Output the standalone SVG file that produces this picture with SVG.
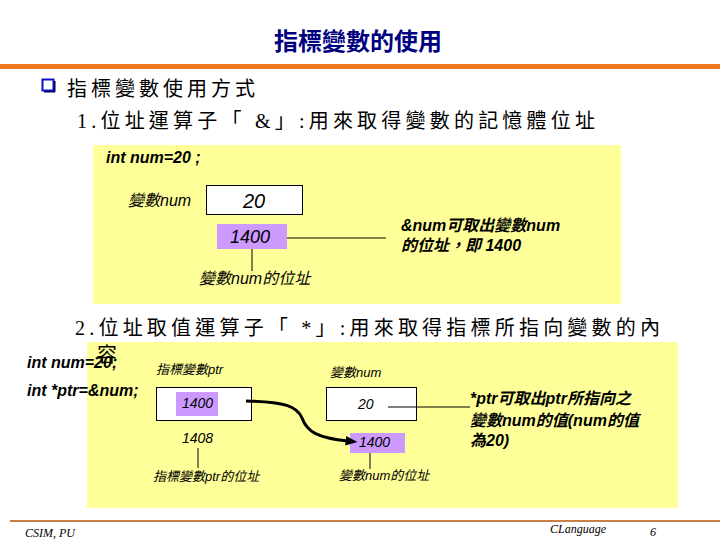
<svg xmlns="http://www.w3.org/2000/svg" width="720" height="540" viewBox="0 0 720 540">
<defs>
<style>
.title{font-family:"Liberation Serif","Noto Sans CJK TC",serif;font-size:24px;font-weight:bold;fill:#000080}
.head{font-family:"Liberation Serif","Noto Sans CJK TC",serif;font-size:20px;fill:#000}
.code{font-family:"Liberation Sans","Noto Sans CJK TC",sans-serif;font-size:16px;font-weight:bold;font-style:italic;fill:#000}
.lab{font-family:"Liberation Sans","Noto Sans CJK TC",sans-serif;font-style:italic;fill:#000}
.foot{font-family:"Liberation Serif",serif;font-style:italic;font-size:12px;fill:#000}
.box{fill:#fff;stroke:#000;stroke-width:1}
.pur{fill:#CC99FF}
.ln{stroke:#000;stroke-width:1;fill:none}
</style>
<marker id="ah" viewBox="0 0 10 10" refX="2" refY="5" markerWidth="4" markerHeight="4" orient="auto" markerUnits="strokeWidth">
<path d="M0,1 L10,5 L0,9 z" fill="#000"/>
</marker>
</defs>
<rect width="720" height="540" fill="#fff"/>
<text class="title" x="358" y="50" text-anchor="middle">指標變數的使用</text>
<rect x="0" y="64" width="720" height="5" fill="#F07820"/>
<g id="bullet">
<rect x="42.5" y="79.5" width="11" height="11" fill="#fff" stroke="#1010C0" stroke-width="2"/>
<rect x="44" y="91" width="11" height="1.5" fill="#000060"/>
<rect x="54" y="81" width="1.5" height="11" fill="#000060"/>
</g>
<text class="head" x="67" y="96" textLength="188" lengthAdjust="spacing">指標變數使用方式</text>
<text class="head" x="77" y="128" textLength="518" lengthAdjust="spacing">1.位址運算子「 &amp;」:用來取得變數的記憶體位址</text>

<g id="panel1">
<rect x="93" y="145" width="528" height="159" fill="#FFFF99"/>
<text class="code" x="106" y="163">int num=20 ;</text>
</g>
<g id="var-num-1">
<text class="lab" x="128" y="206" font-size="16">變數num</text>
<rect class="box" x="206.5" y="185.5" width="96" height="29"/>
<text class="lab" x="254" y="208" font-size="20" text-anchor="middle">20</text>
</g>
<g id="addr-1">
<rect class="pur" x="217" y="224" width="70" height="25"/>
<text class="lab" x="250" y="243" font-size="18" text-anchor="middle">1400</text>
</g>
<g id="addr-label-1">
<text class="lab" x="199" y="284" font-size="16">變數num的位址</text>
</g>
<g id="note-1">
<text class="code" x="401" y="231">&amp;num可取出變數num</text>
<text class="code" x="401" y="251">的位址，即 1400</text>
</g>

<text class="head" x="75" y="335" textLength="585" lengthAdjust="spacing">2.位址取值運算子「 *」:用來取得指標所指向變數的內</text>
<g id="panel2">
<rect x="87" y="342" width="591" height="166" fill="#FFFF99"/>
</g>
<text class="head" x="97" y="362">容</text>
<text class="code" x="27" y="368">int num=20;</text>
<text class="code" x="27" y="396">int *ptr=&amp;num;</text>

<g id="ptr">
<text class="lab" x="156" y="374" font-size="13">指標變數ptr</text>
<rect class="box" x="156.5" y="387.5" width="95" height="33"/>
<rect class="pur" x="176" y="392" width="42" height="24"/>
<text class="lab" x="182" y="408" font-size="14">1400</text>
<text class="lab" x="182" y="443" font-size="14">1408</text>
<text class="lab" x="153" y="481" font-size="13">指標變數ptr的位址</text>
</g>
<g id="num">
<text class="lab" x="330" y="377" font-size="13">變數num</text>
<rect class="box" x="326.5" y="387.5" width="90" height="33"/>
<text class="lab" x="358" y="409" font-size="14">20</text>
<rect class="pur" x="350" y="433" width="55" height="20"/>
<text class="lab" x="359" y="447" font-size="14">1400</text>
<text class="lab" x="339" y="480" font-size="13">變數num的位址</text>
</g>
<g id="note-2">
<text class="code" x="470" y="404">*ptr可取出ptr所指向之</text>
<text class="code" x="470" y="426">變數num的值(num的值</text>
<text class="code" x="470" y="446">為20)</text>
</g>

<g id="connectors">
<line class="ln" x1="287" y1="238" x2="386" y2="238"/>
<line class="ln" x1="252" y1="249" x2="252" y2="271"/>
<line class="ln" x1="198" y1="448" x2="198" y2="468"/>
<line class="ln" x1="388" y1="407" x2="470" y2="407"/>
<line class="ln" x1="370" y1="453" x2="370" y2="469"/>
<path d="M246,401 C285,402 297,406 302,418 C307,432 318,438 348,441" fill="none" stroke="#000" stroke-width="3" marker-end="url(#ah)"/>
</g>

<rect x="10" y="520" width="710" height="2" fill="#C8804A"/>
<text class="foot" x="25" y="537">CSIM, PU</text>
<text class="foot" x="550" y="533">CLanguage</text>
<text class="foot" x="650" y="536" font-style="normal">6</text>
</svg>
